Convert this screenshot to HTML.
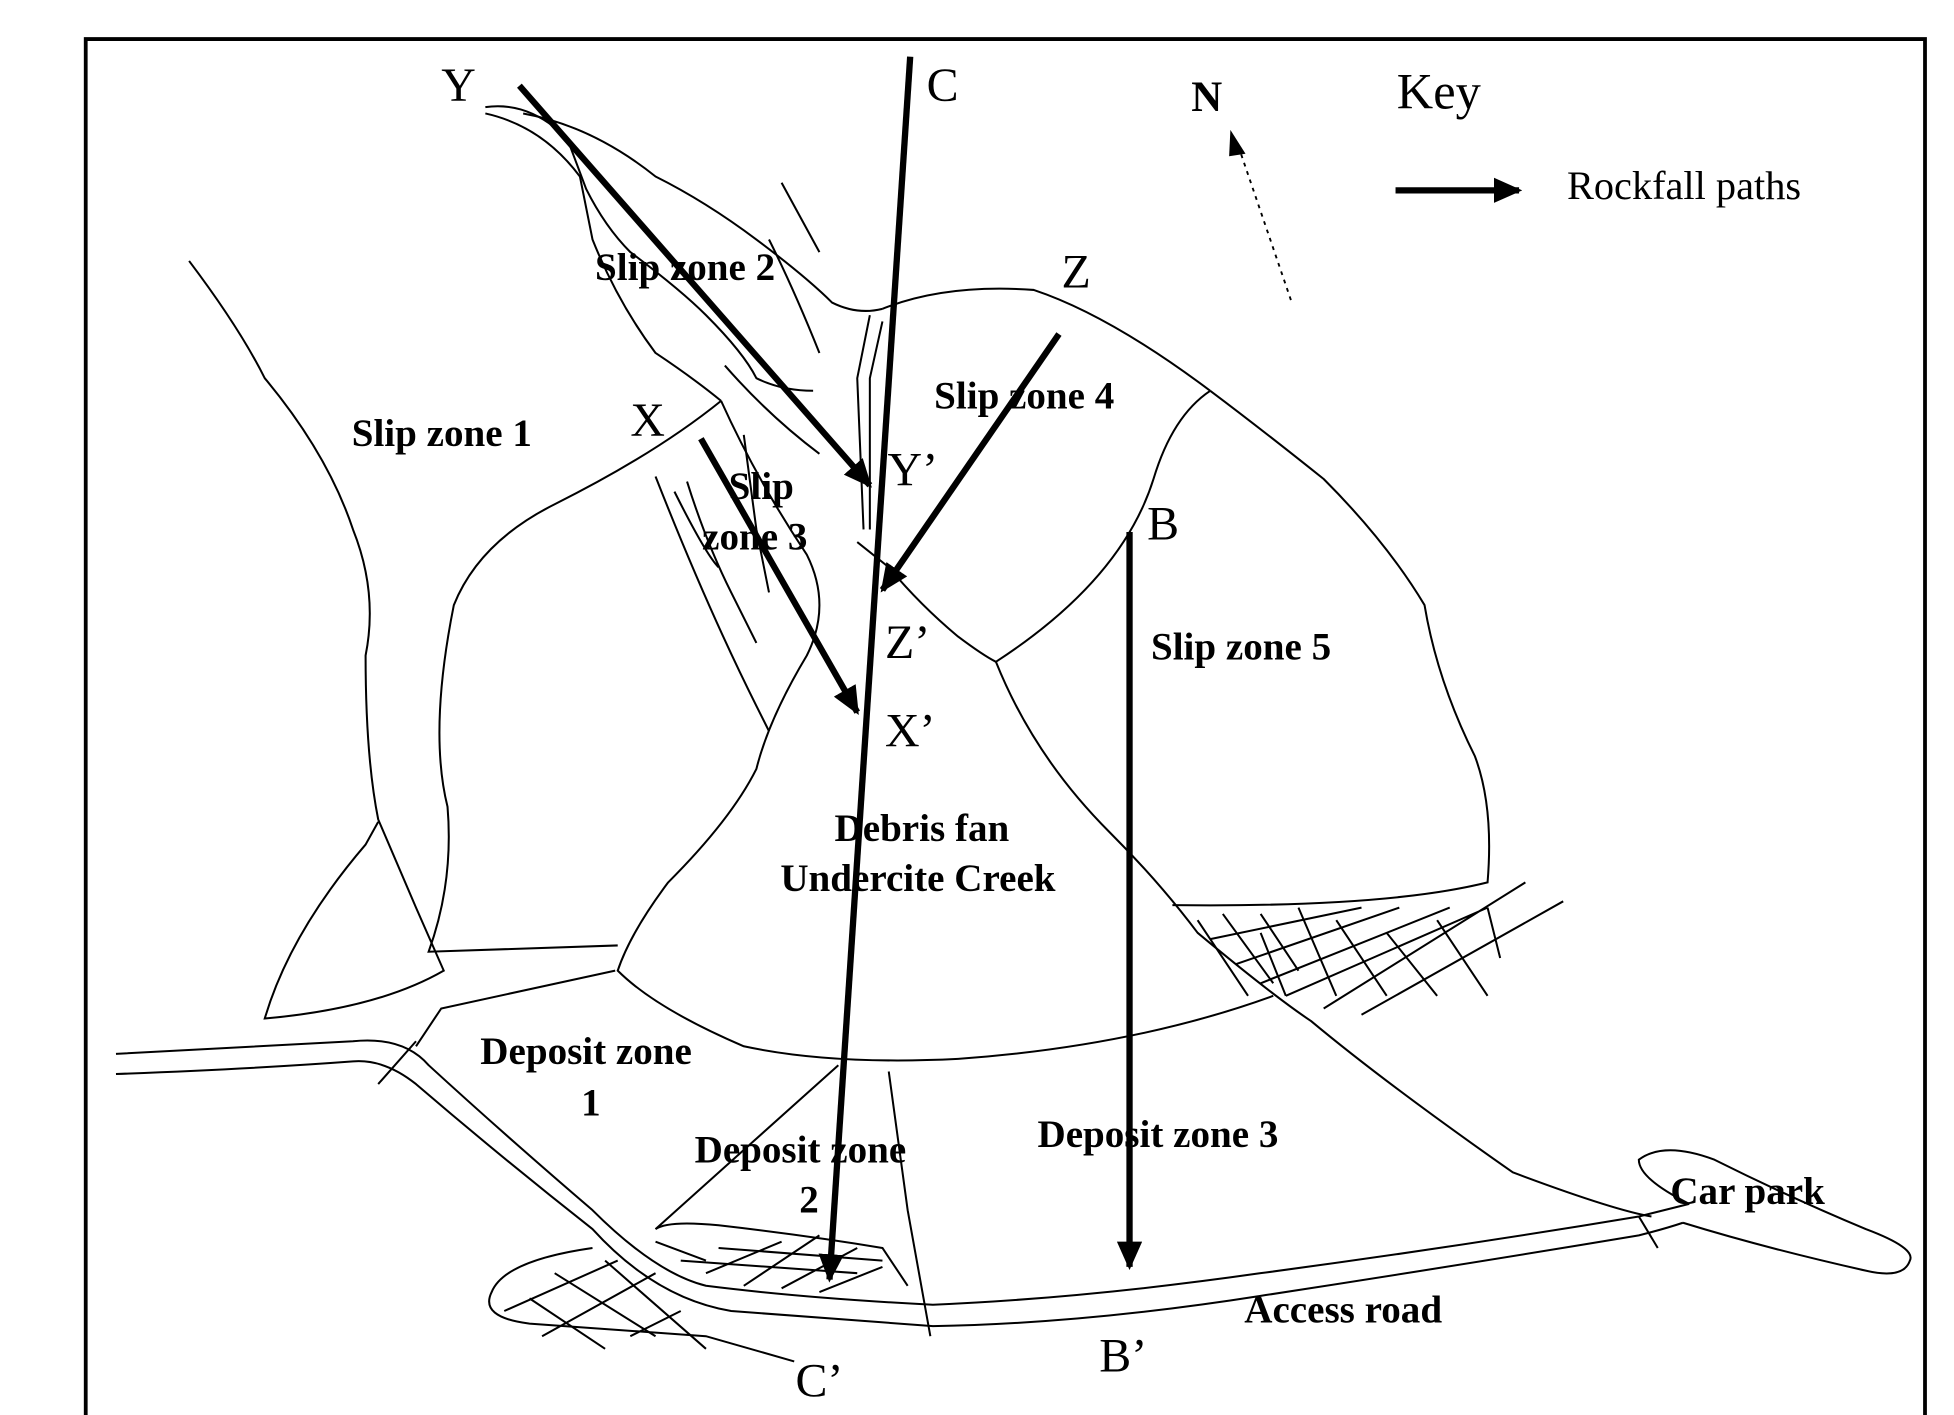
<!DOCTYPE html>
<html><head><meta charset="utf-8"><style>
html,body{margin:0;padding:0;background:#fff;}
svg{display:block;}
text{font-family:"Liberation Serif",serif;fill:#000;}
.b{font-weight:bold;font-size:31px;}
.l{font-size:38px;}
</style></head><body>
<svg width="1954" height="1415" viewBox="0 0 1550 1122.5" preserveAspectRatio="none" xmlns="http://www.w3.org/2000/svg">
<defs><marker id="ah" markerWidth="4.5" markerHeight="4" refX="4" refY="2" orient="auto" markerUnits="strokeWidth"><path d="M0,0 L4.5,2 L0,4 z" fill="#000"/></marker></defs>
<g fill="none" stroke="#000" stroke-width="1.6">
<path d="M68,1125 L68,31 L1527,31 L1527,1125" stroke-width="3"/>
<path d="M385,85 Q420,80 450,110 L465,150 Q480,180 500,200 Q540,230 560,250 Q590,280 600,300 Q620,310 645,310"/>
<path d="M385,90 Q430,100 460,140 L470,190 Q490,240 520,280 Q550,300 572,318"/>
<path d="M415,90 Q470,100 520,140 Q560,160 600,190 Q640,220 660,240 Q680,250 700,245"/>
<path d="M700,245 Q750,225 820,230 Q880,250 960,310"/>
<path d="M150,207 Q190,260 210,300 Q260,360 280,420 Q300,470 290,520 Q290,600 300,650 L330,720 L352,770 Q300,800 210,808 Q230,740 290,670 L300,652"/>
<path d="M572,318 Q520,360 440,400 Q380,430 360,480 Q340,580 355,640 Q360,700 340,755 L490,750"/>
<path d="M572,318 Q600,380 640,440 Q660,480 640,520 Q610,570 600,610 Q580,650 530,700 Q500,740 490,770 Q520,800 590,830 Q660,845 760,840 Q900,830 1010,790"/>
<path d="M960,310 Q1000,340 1050,380 Q1100,430 1130,480 Q1140,540 1170,600 Q1185,640 1180,700 Q1100,720 930,718"/>
<path d="M960,310 Q930,330 915,380 Q890,460 790,525 Q780,520 760,505 Q730,480 705,450 L680,430"/>
<path d="M790,525 Q820,600 880,660 Q920,700 950,740 Q1010,790 1040,810 Q1100,860 1200,930 Q1280,960 1310,965"/>
<path d="M520,378 Q560,480 600,560 L610,580"/>
<path d="M690,250 L680,300 L685,420 M700,255 L690,300 L690,420"/>
<path d="M545,382 Q560,430 580,470 L600,510 M590,345 L600,420 L610,470 M535,390 Q560,440 570,450"/>
<path d="M575,290 Q610,330 650,360"/>
<path d="M610,190 Q630,230 650,280"/>
<path d="M620,145 L650,200"/>
<path d="M92,836 Q200,830 280,826 Q320,822 340,845 Q400,900 470,960 Q520,1010 560,1020 Q640,1030 740,1035 Q860,1030 1000,1010 Q1150,990 1300,965 Q1320,960 1340,955"/>
<path d="M92,852 Q200,848 280,842 Q305,840 330,860 Q400,920 470,975 Q520,1030 580,1040 Q650,1045 740,1052 Q860,1050 1000,1028 Q1150,1005 1300,980 Q1320,975 1335,970"/>
<path d="M1340,955 Q1300,935 1300,920 Q1320,905 1360,920 Q1420,950 1480,975 Q1520,990 1515,1000 Q1510,1015 1480,1008 Q1400,990 1335,970"/>
<path d="M300,860 L330,826 M488,770 L350,800 L330,830 M665,845 L520,975 M705,850 L720,960 L738,1060 M1300,965 L1315,990"/>
<path d="M520,975 Q530,968 570,972 Q640,980 700,990 L720,1020 M390,1025 Q400,1000 470,990 M390,1025 Q380,1045 420,1050 L560,1060 L630,1080"/>
<path d="M520,985 L560,1000 M540,1000 L680,1010 M570,990 L700,1000 M560,1010 L620,985 M590,1020 L650,980 M620,1022 L680,990 M650,1025 L700,1005 M440,1010 L520,1060 M480,1000 L560,1070 M420,1030 L480,1070 M400,1040 L490,1000 M430,1060 L520,1010 M500,1060 L540,1040"/>
<path d="M950,730 L990,790 M970,725 L1010,780 M1000,725 L1030,770 M960,745 L1080,720 M980,765 L1110,720 M1000,780 L1150,720 M1020,790 L1180,720 M1050,800 L1210,700 M1080,805 L1240,715 M1060,730 L1100,790 M1100,740 L1140,790 M1140,730 L1180,790 M1180,720 L1190,760"/>
<path d="M1000,740 L1020,790 M1030,720 L1060,790"/>
</g>
<g stroke="#000" stroke-width="5" fill="none">
<line x1="412" y1="68" x2="690" y2="385" marker-end="url(#ah)"/>
<line x1="722" y1="45" x2="658" y2="1015" marker-end="url(#ah)"/>
<line x1="840" y1="265" x2="700" y2="468" marker-end="url(#ah)"/>
<line x1="556" y1="348" x2="680" y2="565" marker-end="url(#ah)"/>
<line x1="896" y1="422" x2="896" y2="1005" marker-end="url(#ah)"/>
<line x1="1107" y1="151" x2="1205" y2="151" marker-end="url(#ah)"/>
</g>
<line x1="1024" y1="238" x2="982" y2="115" stroke="#000" stroke-width="1.5" stroke-dasharray="3,4"/>
<path d="M976,103 L988,122 L975,124 z" fill="#000"/>
<text class="l" x="350" y="80">Y</text>
<text class="l" x="735" y="80">C</text>
<text x="945" y="88" font-weight="bold" style="font-size:34px">N</text>
<text class="l" x="1108" y="86" style="font-size:40px">Key</text>
<text x="1243" y="158" style="font-size:32px">Rockfall paths</text>
<text class="l" x="842" y="228">Z</text>
<text class="l" x="500" y="346">X</text>
<text class="l" x="704" y="385">Y’</text>
<text class="l" x="910" y="428">B</text>
<text class="l" x="702" y="522">Z’</text>
<text class="l" x="702" y="592">X’</text>
<text class="l" x="872" y="1088">B’</text>
<text class="l" x="631" y="1108">C’</text>
<text class="b" x="472" y="222">Slip zone 2</text>
<text class="b" x="279" y="354">Slip zone 1</text>
<text class="b" x="741" y="324">Slip zone 4</text>
<text class="b" x="578" y="396">Slip</text>
<text class="b" x="557" y="436">zone 3</text>
<text class="b" x="913" y="523">Slip zone 5</text>
<text class="b" x="662" y="667">Debris fan</text>
<text class="b" x="619" y="707">Undercite Creek</text>
<text class="b" x="381" y="844">Deposit zone</text>
<text class="b" x="461" y="885">1</text>
<text class="b" x="551" y="922">Deposit zone</text>
<text class="b" x="634" y="962">2</text>
<text class="b" x="823" y="910">Deposit zone 3</text>
<text class="b" x="1325" y="955">Car park</text>
<text class="b" x="987" y="1049">Access road</text>
</svg>
</body></html>
